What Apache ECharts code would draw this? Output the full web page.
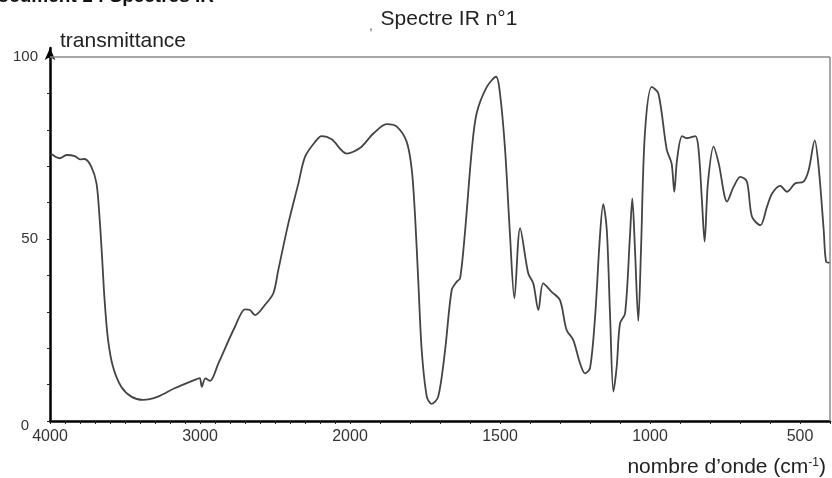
<!DOCTYPE html>
<html>
<head>
<meta charset="utf-8">
<script src="https://cdn.jsdelivr.net/npm/echarts@6/dist/echarts.min.js"></script>
<style>
html,body{margin:0;padding:0;background:#fff;}
#chart{width:832px;height:478px;}
</style>
</head>
<body>
<div id="chart"></div>
<script>
// Wavenumbers (cm-1) and transmittance (%)
const wavenumbers = [
  3995, 3935, 3890, 3835, 3800, 3770, 3725, 3690, 3670, 3653,
  3636, 3613, 3580, 3525, 3458, 3380, 3280, 3170, 3036, 3002,
  2988, 2964, 2933, 2878, 2767, 2700, 2667, 2633, 2567, 2511,
  2478, 2411, 2344, 2300, 2233, 2189, 2122, 2022, 1967, 1922,
  1878, 1844, 1811, 1794, 1783, 1772, 1761, 1744, 1728, 1706,
  1683, 1661, 1644, 1633, 1617, 1594, 1578, 1544, 1513, 1500,
  1483, 1467, 1452, 1433, 1406, 1389, 1372, 1356, 1328, 1300,
  1278, 1256, 1233, 1217, 1200, 1183, 1167, 1156, 1144, 1133,
  1122, 1111, 1100, 1083, 1067, 1059, 1050, 1039, 1030, 1017,
  994, 972, 944, 928, 919, 910, 893, 877, 849, 838,
  827, 818, 807, 788, 771, 743, 721, 699, 677, 660,
  632, 610, 593, 566, 543, 516, 488, 471, 451, 438,
  421, 413, 400
];
const transmittance = [
  73.5, 72.2, 73.1, 72.8, 71.9, 72.0, 69.9, 65.3, 56.1, 45.1,
  33.2, 22.3, 14.9, 9.4, 6.7, 5.8, 6.7, 9.0, 11.3, 11.8,
  9.4, 11.7, 11.0, 15.8, 25.9, 30.7, 30.5, 29.1, 31.9, 35.1,
  41.5, 54.3, 65.3, 72.6, 76.7, 78.3, 77.4, 73.5, 75.0, 79.0,
  81.6, 80.9, 76.7, 69.0, 56.1, 37.8, 19.5, 6.7, 4.7, 6.7,
  19.5, 36.0, 38.3, 39.2, 51.6, 74.5, 84.5, 91.8, 94.6, 90.0,
  74.5, 51.6, 33.7, 53.0, 40.6, 37.8, 30.5, 37.8, 35.5, 33.2,
  25.0, 22.3, 15.8, 13.1, 14.5, 28.7, 50.6, 59.6, 52.5, 28.7,
  8.1, 14.9, 26.8, 29.6, 50.6, 61.2, 47.0, 27.5, 47.0, 79.0,
  91.8, 90.0, 74.5, 70.8, 63.0, 71.7, 78.3, 77.7, 78.3, 74.5,
  60.7, 49.3, 65.3, 75.4, 70.8, 60.3, 64.4, 67.1, 65.8, 56.1,
  53.8, 58.9, 62.5, 64.6, 63.0, 65.3, 65.8, 69.0, 77.1, 69.9,
  52.5, 43.8, 43.5
];
const xTickLabels = [4000, 3000, 2000, 1500, 1000, 500];
const xMinorTicks = [];
for (let w = 4000; w >= 400; w -= 100) xMinorTicks.push(w);
const yTickLabels = [0, 50, 100];
const yTicks = [0, 10, 20, 30, 40, 50, 60, 70, 80, 90, 100];

// IR chart axis: scale doubles below 2000 cm-1
function toU(wn) { return wn >= 2000 ? (4000 - wn) / 2 : 1000 + (2000 - wn); }
function fromU(u) { return u <= 1000 ? 4000 - 2 * u : 2000 - (u - 1000); }

const seriesData = wavenumbers.map((w, i) => [toU(w), transmittance[i]]);
const FONT = 'Liberation Sans, Arial, sans-serif';

const chart = echarts.init(document.getElementById('chart'), null, {renderer: 'canvas'});
chart.setOption({
  backgroundColor: '#fff',
  animation: false,
  grid: {left: 50, right: 2, top: 48, bottom: 57, containLabel: false},
  xAxis: {
    type: 'value', min: 0, max: 2600, interval: 500,
    axisLine: {show: true, lineStyle: {color: '#000', width: 2.5}},
    axisTick: {show: true, customValues: xMinorTicks.map(toU), length: 3, lineStyle: {color: '#222', width: 1}},
    axisLabel: {
      customValues: xTickLabels.map(toU),
      formatter: v => String(Math.round(fromU(v))),
      fontSize: 16, color: '#333', margin: 8, fontFamily: FONT
    },
    splitLine: {show: false}
  },
  yAxis: {
    type: 'value', min: 0, max: 102.5, interval: 10,
    axisLine: {show: true, symbol: ['none', 'arrow'], symbolSize: [8, 12], lineStyle: {color: '#000', width: 2.5}},
    axisTick: {show: true, customValues: yTicks, length: 3, lineStyle: {color: '#222', width: 1}},
    axisLabel: {
      customValues: yTickLabels,
      formatter: v => v === 0 ? '{z|0}' : String(v),
      fontSize: 15, color: '#333', margin: 12, fontFamily: FONT,
      rich: {z: {fontSize: 15, color: '#333', fontFamily: FONT, padding: [10, 9, 0, 0]}}
    },
    splitLine: {show: false}
  },
  series: [{
    type: 'line',
    data: seriesData,
    showSymbol: false,
    smooth: 0.3,
    lineStyle: {color: '#444', width: 1.8},
    markLine: {
      silent: true, symbol: 'none', label: {show: false},
      lineStyle: {color: '#8a8a8a', width: 1.5, type: 'solid'},
      data: [
        [{coord: [0, 100]}, {coord: [2600, 100]}],
        [{coord: [2600, 0]}, {coord: [2600, 100]}]
      ]
    }
  }],
  graphic: [
    {type: 'text', x: 214, y: 6, style: {text: 'Document 1 : Spectres IR', fontSize: 19, fontWeight: 'bold', fontFamily: FONT, fill: '#111', align: 'right', verticalAlign: 'bottom'}},
    {type: 'text', x: 449, y: 19, style: {text: 'Spectre IR n°1', fontSize: 21, fontFamily: FONT, fill: '#222', align: 'center', verticalAlign: 'middle'}},
    {type: 'text', x: 371, y: 27, style: {text: ',', fontSize: 12, fontFamily: FONT, fill: '#444', align: 'center', verticalAlign: 'middle'}},
    {type: 'text', x: 60, y: 41, style: {text: 'transmittance', fontSize: 21, fontFamily: FONT, fill: '#222', align: 'left', verticalAlign: 'middle'}},
    {type: 'text', x: 826, y: 467, style: {
      text: 'nombre d\u2019onde (cm{sup|-1})', fontSize: 21, fontFamily: FONT, fill: '#222', align: 'right', verticalAlign: 'middle',
      rich: {sup: {fontSize: 12, fontFamily: FONT, fill: '#222', verticalAlign: 'top'}}
    }}
  ]
});
</script>
</body>
</html>
